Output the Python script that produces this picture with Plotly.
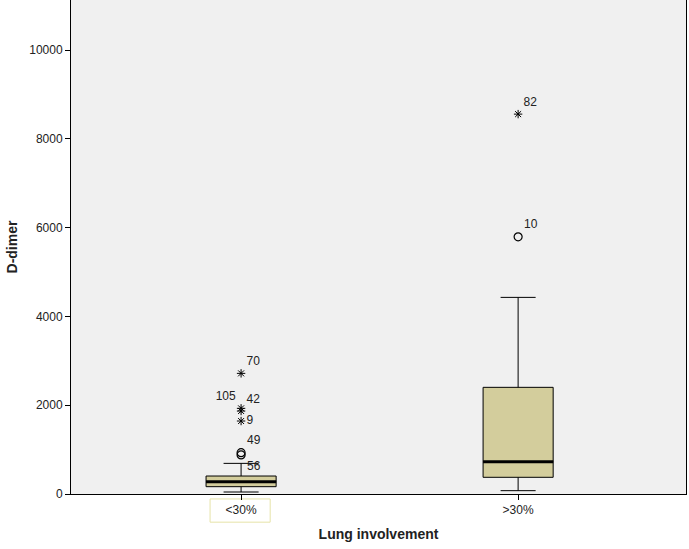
import plotly.graph_objects as go

# groups and box statistics
groups = ["<30%", ">30%"]
q1 = [165, 376]
median = [277, 727]
q3 = [405, 2403]
lower_whisker = [45, 75]
upper_whisker = [690, 4430]

# outliers: circles = mild, stars = extreme
circle_group = [0, 0, 1]
circle_value = [930, 880, 5795]
circle_label = ["49", "56", "10"]
circle_pos = ["top right", "bottom right", "top right"]

star_group = [0, 0, 0, 0, 1]
star_value = [2718, 1930, 1870, 1644, 8559]
star_label = ["70", "105", "42", "9", "82"]
star_pos = ["top right", "top left", "top right", "middle right", "top right"]

box_w = 0.253
fill = "#d3cd9c"

fig = go.Figure()

fig.add_trace(go.Box(
    x=list(range(len(groups))), q1=q1, median=median, q3=q3,
    lowerfence=lower_whisker, upperfence=upper_whisker,
    width=box_w, whiskerwidth=0.5, fillcolor=fill,
    line=dict(color="black", width=1), boxpoints=False,
    hoverinfo="skip", showlegend=False,
))

# thick median lines
for i, m in enumerate(median):
    fig.add_trace(go.Scatter(
        x=[i - box_w / 2, i + box_w / 2], y=[m, m], mode="lines",
        line=dict(color="black", width=3), showlegend=False, hoverinfo="skip",
    ))

fig.add_trace(go.Scatter(
    x=circle_group, y=circle_value, mode="markers+text",
    marker=dict(symbol="circle-open", size=8, color="black", line=dict(width=1.2)),
    text=circle_label, textposition=circle_pos,
    textfont=dict(family="Liberation Sans, Arial", size=12, color="#222"),
    showlegend=False,
))

fig.add_trace(go.Scatter(
    x=star_group, y=star_value, mode="markers+text",
    marker=dict(symbol="asterisk-open", size=7, color="black", line=dict(width=1, color="black")),
    text=star_label, textposition=star_pos,
    textfont=dict(family="Liberation Sans, Arial", size=12, color="#222"),
    showlegend=False,
))

# selection frame around the first category label
fig.add_shape(type="rect", xref="x", yref="paper",
              x0=-0.112, x1=0.105, y0=-0.057, y1=-0.01,
              line=dict(color="#e6e3a8", width=1), fillcolor="white", layer="below")

fig.update_layout(
    width=689, height=549,
    margin=dict(l=71, r=3, t=0, b=55),
    paper_bgcolor="white", plot_bgcolor="#f0f0f0",
    font=dict(family="Liberation Sans, Arial", size=12, color="#222"),
    xaxis=dict(
        range=[-0.614, 1.606], tickvals=list(range(len(groups))), ticktext=groups,
        showgrid=False, zeroline=False, showline=True, linecolor="black", linewidth=1,
        ticks="outside", ticklen=5, tickcolor="black",
        title=dict(text="<b>Lung involvement</b>", font=dict(size=14, color="#222"), standoff=12),
    ),
    yaxis=dict(
        range=[0, 11130], tickvals=[0, 2000, 4000, 6000, 8000, 10000], tickformat="d",
        showgrid=False, zeroline=False, showline=True, linecolor="black", linewidth=1,
        mirror=True, ticks="outside", ticklen=5, tickcolor="black",
        title=dict(text="<b>D-dimer</b>", font=dict(size=14, color="#222"), standoff=8),
    ),
)

fig.write_html("out.html", config={"displayModeBar": False},
               post_script="document.body.style.margin='0';")
